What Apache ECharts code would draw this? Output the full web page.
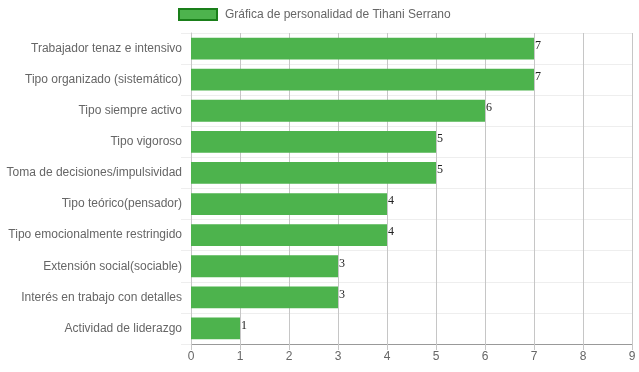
<!DOCTYPE html>
<html>
<head>
<meta charset="utf-8">
<script src="https://cdn.jsdelivr.net/npm/echarts@6/dist/echarts.min.js"></script>
<style>html,body{margin:0;padding:0;background:#fff;}#c{width:639px;height:372px;}</style>
</head>
<body>
<div id="c"></div>
<script>
var seriesName = 'Gráfica de personalidad de Tihani Serrano';
var categories = [
  'Trabajador tenaz e intensivo',
  'Tipo organizado (sistemático)',
  'Tipo siempre activo',
  'Tipo vigoroso',
  'Toma de decisiones/impulsividad',
  'Tipo teórico(pensador)',
  'Tipo emocionalmente restringido',
  'Extensión social(sociable)',
  'Interés en trabajo con detalles',
  'Actividad de liderazgo'
];
var values = [7, 7, 6, 5, 5, 4, 4, 3, 3, 1];
var xTicks = [0, 1, 2, 3, 4, 5, 6, 7, 8, 9];

var chart = echarts.init(document.getElementById('c'), null, {renderer: 'canvas'});
chart.setOption({
  animation: false,
  backgroundColor: '#fff',
  legend: {
    show: true,
    left: 173,
    top: 3,
    itemWidth: 38,
    itemHeight: 11,
    icon: 'rect',
    itemStyle: {color: '#4db34d', borderColor: '#1a7f1a', borderWidth: 2},
    textStyle: {fontFamily: 'Liberation Sans, Arial, sans-serif', fontSize: 12, color: '#666', padding: [0, 0, 0, 3]},
    data: [seriesName]
  },
  grid: {left: 191, right: 7, top: 33, bottom: 28, containLabel: false},
  xAxis: {
    type: 'value',
    min: xTicks[0],
    max: xTicks[xTicks.length - 1],
    interval: 1,
    axisLine: {show: true, lineStyle: {color: '#999', width: 1}},
    axisTick: {show: true, length: 6, lineStyle: {color: '#c6c6c6'}},
    axisLabel: {fontFamily: 'Liberation Sans, Arial, sans-serif', fontSize: 12, color: '#666', margin: 7},
    splitLine: {show: true, lineStyle: {color: '#c6c6c6', width: 1}}
  },
  yAxis: {
    type: 'category',
    inverse: true,
    data: categories,
    axisLine: {show: true, lineStyle: {color: '#c6c6c6', width: 1}},
    axisTick: {show: true, length: 10, alignWithLabel: false, lineStyle: {color: '#eee'}},
    axisLabel: {fontFamily: 'Liberation Sans, Arial, sans-serif', fontSize: 12, color: '#666', margin: 9},
    splitLine: {show: true, lineStyle: {color: '#eee', width: 1}}
  },
  series: [{
    name: seriesName,
    type: 'bar',
    data: values,
    barCategoryGap: '30%',
    itemStyle: {color: '#4db34d'},
    label: {
      show: true,
      position: ['100%', 0],
      align: 'left',
      verticalAlign: 'top',
      offset: [1, 2],
      fontFamily: 'Liberation Serif, Times New Roman, serif',
      fontSize: 12,
      color: '#222'
    }
  }]
});
</script>
</body>
</html>
